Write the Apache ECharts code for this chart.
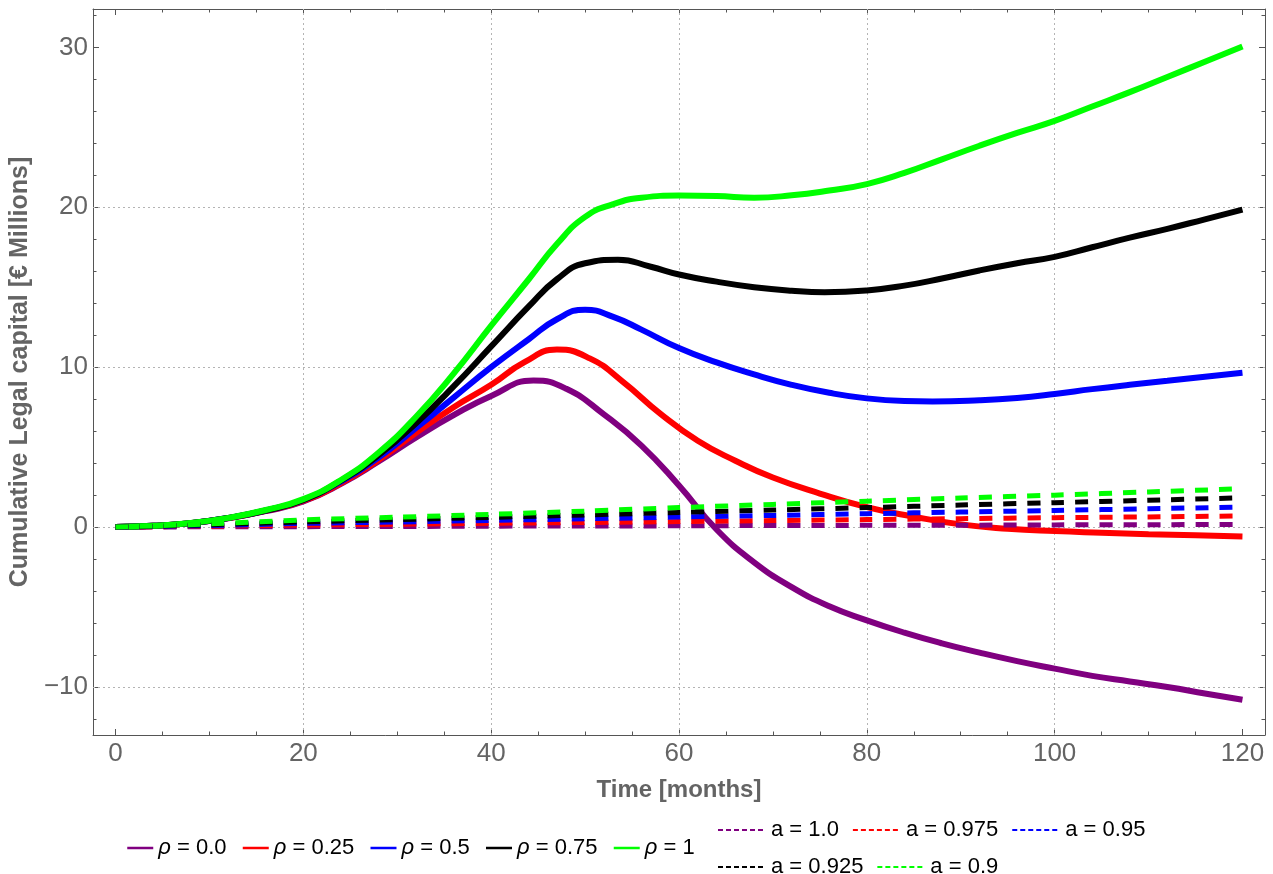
<!DOCTYPE html>
<html>
<head>
<meta charset="utf-8">
<script src="https://cdn.jsdelivr.net/npm/echarts@6/dist/echarts.min.js"></script>
<style>
html,body{margin:0;padding:0;background:#fff;}
#chart{width:1273px;height:874px;}
</style>
</head>
<body>
<div id="chart"></div>
<script>
// ---- data ----
const early = [0,4,8,12,16,20,24,28,32,36,40];

const rho0Months = early.concat([44.5,48,52,56,60,64,68,72,76,80,84,88,92,96,100,104,108,112,116,120]);
const rho0 = [0,0.08,0.25,0.55,1.0,1.6,2.7,4.1,5.6,7.0,8.2, 9.17,8.65,7.05,5.1,2.6,-0.15,-2.2,-3.75,-4.95,-5.83,-6.6,-7.27,-7.85,-8.38,-8.85,-9.3,-9.65,-10.0,-10.4,-10.8];

const rho25Months = early.concat([43.5,47,50.5,54,58,62,66,70,75,80,85,90,95,100,105,110,115,120]);
const rho25 = [0,0.08,0.25,0.56,1.02,1.65,2.75,4.2,5.9,7.5,8.9, 10.3,11.1,10.55,9.1,7.1,5.4,4.15,3.1,2.1,1.25,0.65,0.17,-0.1,-0.25,-0.35,-0.44,-0.51,-0.58];

const rho50Months = early.concat([44,47,50,53,56,60,64,68,72,76,80,84,87,92,96,100,104,108,112,116,120]);
const rho50 = [0,0.08,0.25,0.57,1.04,1.7,2.85,4.35,6.2,8.1,10.0, 11.75,13.0,13.6,13.15,12.35,11.2,10.3,9.55,8.9,8.4,8.05,7.88,7.85,7.93,8.08,8.33,8.63,8.9,9.15,9.4,9.65];

const rho75Months = early.concat([44,47,50,53.5,57,60,64,68,72,75.5,80,84,88,92,96,100,104,108,112,116,120]);
const rho75 = [0,0.08,0.25,0.57,1.04,1.7,2.9,4.5,6.5,8.8,11.3, 13.8,15.5,16.5,16.72,16.28,15.8,15.35,15.0,14.78,14.69,14.8,15.1,15.55,16.05,16.5,16.9,17.5,18.1,18.65,19.25,19.85];

const rho100Months = early.concat([44,47,50,53,56,60,64,68,72,76,80,84,88,92,96,100,104,108,112,116,120]);
const rho100 = [0,0.08,0.26,0.58,1.07,1.75,2.95,4.65,6.9,9.6,12.6, 15.5,17.7,19.4,20.2,20.6,20.73,20.7,20.6,20.75,21.05,21.45,22.15,23.0,23.85,24.65,25.4,26.3,27.2,28.15,29.1,30.05];

const aMonths = [0,10,20,30,40,50,60,70,80,90,100,110,120];
const a100  = [0,0.02,0.03,0.04,0.06,0.07,0.08,0.1,0.11,0.12,0.14,0.15,0.17];
const a0975 = [0,0.06,0.13,0.18,0.24,0.29,0.35,0.41,0.47,0.53,0.59,0.64,0.7];
const a095  = [0,0.1,0.23,0.32,0.42,0.52,0.63,0.73,0.84,0.94,1.04,1.15,1.25];
const a0925 = [0,0.15,0.33,0.47,0.61,0.76,0.92,1.07,1.22,1.38,1.53,1.68,1.83];
const a090  = [0,0.2,0.45,0.62,0.8,1.0,1.22,1.42,1.62,1.82,2.0,2.2,2.4];

const rhoNames = ['ρ = 0.0','ρ = 0.25','ρ = 0.5','ρ = 0.75','ρ = 1'];
const aNames = ['a = 1.0','a = 0.975','a = 0.95','a = 0.925','a = 0.9'];
const colors = ['#800080','#ff0000','#0000ff','#000000','#00ff00'];

const xMajor = [0,20,40,60,80,100,120];
const xMinor = [5,10,15,25,30,35,45,50,55,65,70,75,85,90,95,105,110,115];
const yMajor = [-10,0,10,20,30];
const yMinor = [-12,-8,-6,-4,-2,2,4,6,8,12,14,16,18,22,24,26,28,32];
const xGrid = [20,40,60,80,100];
const yGrid = [-10,0,10,20];

// ---- chart ----
const FONT = '"Liberation Sans", Arial, sans-serif';
const FRAME = '#555555';
const LABEL = '#646464';
const xMin = -2.4, xMax = 122.4, yMin = -13, yMax = 32.4;

function zip(xs, ys){ return xs.map((x,i)=>[x, ys[i]]); }
function fmt(v){ return v < 0 ? '\u2212' + (-v) : String(v); }

function xAx(pos, major, withLabel){
  return {
    type:'value', min:xMin, max:xMax, position:pos,
    axisLine:{show:major, onZero:false, lineStyle:{color:FRAME, width:1}},
    axisTick:{show:true, inside:true, length: major?6:3.5, customValues: major?xMajor:xMinor, lineStyle:{color:FRAME, width:1}},
    axisLabel: withLabel ? {show:true, customValues:xMajor, formatter:fmt, color:LABEL, fontSize:26, fontFamily:FONT, margin:6} : {show:false},
    splitLine:{show:false},
    name: withLabel ? 'Time [months]' : '',
    nameLocation:'middle', nameGap:43,
    nameTextStyle:{color:LABEL, fontSize:24, fontWeight:'bold', fontFamily:FONT}
  };
}
function yAx(pos, major, withLabel){
  return {
    type:'value', min:yMin, max:yMax, position:pos,
    axisLine:{show:major, onZero:false, lineStyle:{color:FRAME, width:1}},
    axisTick:{show:true, inside:true, length: major?6:3.5, customValues: major?yMajor:yMinor, lineStyle:{color:FRAME, width:1}},
    axisLabel: withLabel ? {show:true, customValues:yMajor, formatter:fmt, color:LABEL, fontSize:26, fontFamily:FONT, margin:5} : {show:false},
    splitLine:{show:false},
    name: withLabel ? 'Cumulative Legal capital [€ Millions]' : '',
    nameLocation:'middle', nameGap:57,
    nameTextStyle:{color:LABEL, fontSize:25, fontWeight:'bold', fontFamily:FONT}
  };
}

const solidSets = [[rho0Months, rho0],[rho25Months, rho25],[rho50Months, rho50],[rho75Months, rho75],[rho100Months, rho100]];
const dashData = [a100, a0975, a095, a0925, a090];

const series = [];
solidSets.forEach((set, i) => {
  const s = {
    name: rhoNames[i], type:'line', data: zip(set[0], set[1]), smooth:0.5,
    showSymbol:false, symbol:'none', lineStyle:{color:colors[i], width:6}, itemStyle:{color:colors[i]},
    z:2, silent:true
  };
  if (i === 0) {
    s.markLine = {
      silent:true, symbol:['none','none'], z:1, animation:false,
      label:{show:false},
      lineStyle:{color:'#b4b4b4', type:[2,3], width:1},
      data: xGrid.map(v=>({xAxis:v})).concat(yGrid.map(v=>({yAxis:v})))
    };
  }
  series.push(s);
});
dashData.forEach((ys, i) => {
  series.push({
    name: aNames[i], type:'line', data: zip(aMonths, ys), smooth:0.3,
    showSymbol:false, symbol:'none',
    lineStyle:{color:colors[i], width:5, type:[13,11], cap:'butt'}, itemStyle:{color:colors[i]},
    z:3, silent:true
  });
});

const chart = echarts.init(document.getElementById('chart'), null, {renderer:'canvas'});
chart.setOption({
  animation:false,
  backgroundColor:'#ffffff',
  grid:{left:92, right:8, top:9, bottom:139, containLabel:false},
  xAxis:[xAx('bottom', true, true), xAx('bottom', false, false), xAx('top', true, false), xAx('top', false, false)],
  yAxis:[yAx('left', true, true), yAx('left', false, false), yAx('right', true, false), yAx('right', false, false)],
  legend:[
    {
      data: rhoNames, left:121, top:831, orient:'horizontal',
      itemWidth:26, itemHeight:14, itemGap:15,
      itemStyle:{opacity:0, borderWidth:0},
      lineStyle:{width:2.5},
      textStyle:{color:'#000', fontSize:22, fontFamily:FONT, lineHeight:24,
        rich:{g:{fontStyle:'italic', fontSize:22, fontFamily:FONT, color:'#000'}}},
      formatter: n => '{g|ρ}' + n.slice(1),
      selectedMode:false
    },
    {
      data: aNames, left:712, top:813, width:555, orient:'horizontal',
      itemWidth:48, itemHeight:14, itemGap:13,
      itemStyle:{opacity:0, borderWidth:0},
      lineStyle:{width:2, type:[5,3]},
      textStyle:{color:'#000', fontSize:22, fontFamily:FONT, lineHeight:24},
      selectedMode:false
    }
  ],
  series: series
});
</script>
</body>
</html>
